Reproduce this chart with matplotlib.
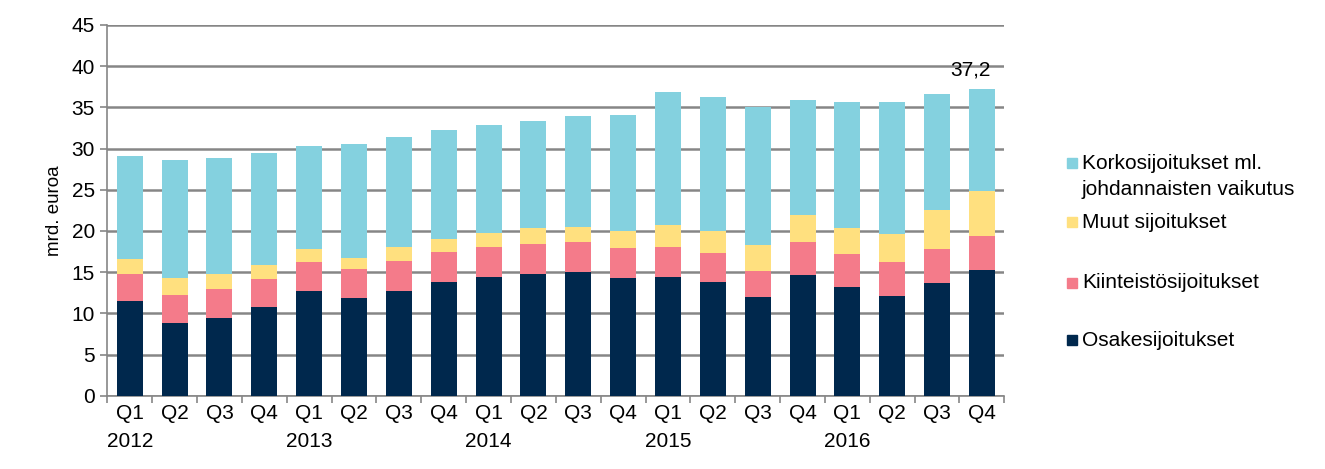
import numpy as np
import matplotlib.pyplot as plt
from matplotlib.patches import Rectangle

plt.rcParams['font.family'] = ['Liberation Sans', 'DejaVu Sans']

quarters = ['Q1', 'Q2', 'Q3', 'Q4'] * 5
years = ['2012', '2013', '2014', '2015', '2016']

osake = [11.5, 8.8, 9.5, 10.8, 12.7, 11.9, 12.7, 13.8, 14.4, 14.8,
         15.0, 14.3, 14.4, 13.8, 12.0, 14.7, 13.2, 12.1, 13.7, 15.3]
kiinteisto = [3.3, 3.4, 3.4, 3.4, 3.5, 3.5, 3.6, 3.6, 3.6, 3.6,
              3.6, 3.6, 3.6, 3.5, 3.1, 3.9, 4.0, 4.1, 4.1, 4.1]
muut = [1.8, 2.1, 1.9, 1.7, 1.6, 1.3, 1.7, 1.6, 1.8, 1.9,
        1.9, 2.1, 2.7, 2.7, 3.2, 3.3, 3.1, 3.4, 4.8, 5.5]
korko = [12.5, 14.3, 14.1, 13.6, 12.5, 13.8, 13.4, 13.3, 13.1, 13.0,
         13.4, 14.1, 16.1, 16.2, 16.7, 14.0, 15.4, 16.1, 14.0, 12.3]

names = ['Osakesijoitukset', 'Kiinteistösijoitukset', 'Muut sijoitukset',
         'Korkosijoitukset ml.\njohdannaisten vaikutus']
colors = ['#00284D', '#F47B8A', '#FFE07F', '#84D1DF']

labels = []
for i, q in enumerate(quarters):
    if q == 'Q1':
        labels.append(q + '\n' + years[i // 4])
    else:
        labels.append(q)

W, H = 1325, 469
fig = plt.figure(figsize=(W / 100, H / 100), dpi=100)
ax = fig.add_axes([0.081, 0.156, 0.677, 0.791])

x = np.arange(len(quarters))
bottom = np.zeros(len(x))
for vals, col in zip([osake, kiinteisto, muut, korko], colors):
    ax.bar(x, vals, 0.58, bottom=bottom, color=col, zorder=3)
    bottom += np.array(vals)

ax.annotate('37,2', (x[-1], bottom[-1]), xytext=(-8, 7), textcoords='offset points',
            ha='center', va='bottom', fontsize=15)

ax.set_xlim(-0.5, len(x) - 0.5)
ax.set_ylim(0, 45)
ax.set_yticks(range(0, 46, 5))
ax.set_xticks(x)
ax.set_xticklabels(labels, fontsize=15, ha='center', linespacing=1.6)
ax.set_xticks(np.arange(-0.5, len(x), 1), minor=True)
ax.tick_params(axis='x', which='major', length=0, pad=6)
ax.tick_params(axis='x', which='minor', length=5, color='#868686', width=1.2)
ax.tick_params(axis='y', labelsize=15, length=5, color='#868686', width=1.2, pad=4)
ax.set_ylabel('mrd. euroa', fontsize=13.5, labelpad=6)

ax.grid(axis='y', color='#868686', linewidth=1.8, zorder=0)
for s in ['top', 'right']:
    ax.spines[s].set_visible(False)
for s in ['left', 'bottom']:
    ax.spines[s].set_color('#868686')
    ax.spines[s].set_linewidth(1.2)

# legend, placed by hand (uneven spacing as in the original)
leg_y = [340, 283, 222, 163]
for name, col, yy in zip(names, colors, leg_y):
    fy = 1 - yy / H
    fig.patches.append(Rectangle((1067 / W, fy - 5 / H), 10 / W, 10 / H,
                                 transform=fig.transFigure, color=col))
    if '\n' in name:
        fig.text(1082 / W, 1 - (yy - 9) / H, name, fontsize=15, va='top',
                 linespacing=1.45)
    else:
        fig.text(1082 / W, fy, name, fontsize=15, va='center')

fig.savefig('out.png', dpi=100)
